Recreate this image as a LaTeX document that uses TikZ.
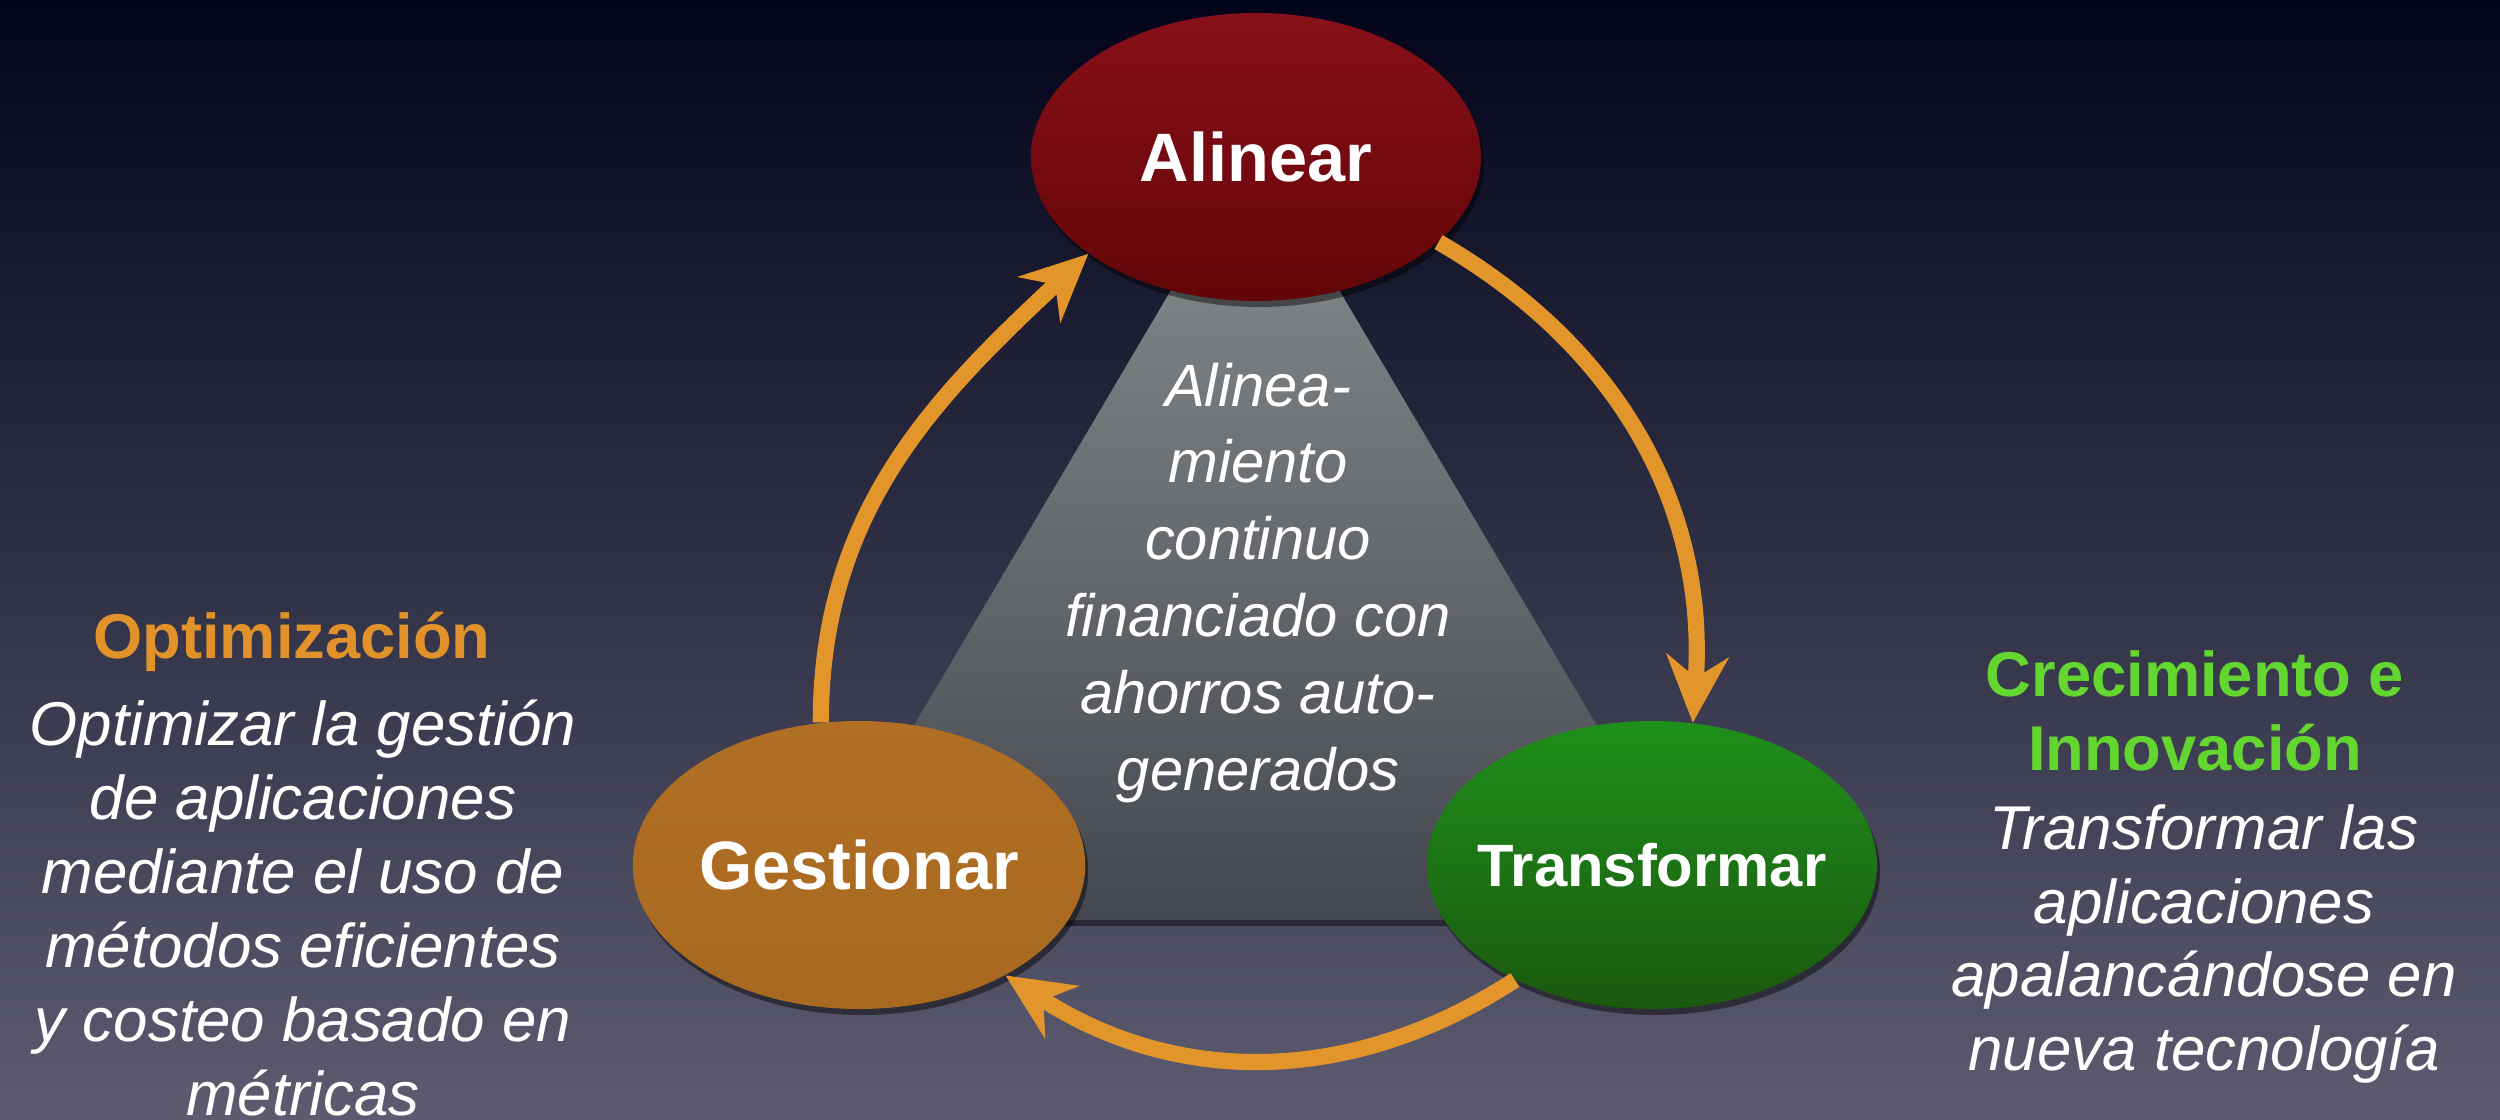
\documentclass[tikz,border=0pt]{standalone}
\usepackage{fontspec}
\setmainfont{Liberation Sans}
\usetikzlibrary{calc,shadows,arrows.meta,shapes.geometric}

\definecolor{bgtop}{HTML}{03041A}
\definecolor{bgbottom}{HTML}{5C5B70}
\definecolor{alinTop}{HTML}{881019}
\definecolor{alinBot}{HTML}{630508}
\definecolor{gestTop}{HTML}{B06F24}
\definecolor{gestBot}{HTML}{A8681F}
\definecolor{transTop}{HTML}{1F901B}
\definecolor{transBot}{HTML}{1B580F}
\definecolor{triTop}{HTML}{8A8F8F}
\definecolor{triBot}{HTML}{45474F}
\definecolor{flowc}{HTML}{E1952B}
\definecolor{optc}{HTML}{E1922A}
\definecolor{innovc}{HTML}{63D62F}

\begin{document}
\begin{tikzpicture}[softshadow/.style={drop shadow={shadow xshift=0.03cm,shadow yshift=-0.06cm,opacity=0.45,fill=black}},phase/.style={ellipse,minimum width=4.5cm,minimum height=2.88cm,inner sep=0pt,text=white,font=\bfseries\fontsize{19.5}{22}\selectfont,softshadow},flow/.style={draw=flowc,line width=4.6pt,-{Stealth[length=0.67cm,width=0.62cm,inset=0.22cm]}},heading/.style={font=\bfseries\fontsize{18}{21}\selectfont,align=center,inner sep=0pt},blurb/.style={text=white,font=\itshape\fontsize{17.6}{21}\selectfont,align=center,inner sep=0pt}]
  \useasboundingbox (0,0) rectangle (25,11.19);
  \shade[top color=bgtop,bottom color=bgbottom] (0,0) rectangle (25,11.19);
  % gray triangle behind the three phases
  \coordinate (apex) at (12.55,9.71);
  \coordinate (baseL) at (7.99,1.99);
  \coordinate (baseR) at (17.12,1.99);
  \path[top color=triTop,bottom color=triBot,softshadow] (apex) -- (baseR) -- (baseL) -- cycle;
  \node[phase,top color=alinTop,bottom color=alinBot] (alin) at (12.56,9.62) {Alinear};
  \node[phase,top color=gestTop,bottom color=gestBot] (gest) at (8.59,2.54) {Gestionar};
  \node[phase,top color=transTop,bottom color=transBot,inner xsep=-0.5cm,font=\bfseries\fontsize{17}{20}\selectfont] (trans) at (16.52,2.54) {Transformar};
  \node[blurb,font=\itshape\fontsize{17}{21.9}\selectfont] (core) at (12.58,5.36) {Alinea-\\miento\\continuo\\financiado con\\ahorros auto-\\generados};
  \draw[flow] (gest.105) to[out=90,in=223] (alin.210);
  \draw[flow] (alin.335) to[out=-30,in=86] (trans.74);
  \draw[flow] (trans.220) to[out=213,in=-33] (gest.323);
  % side texts
  \node[heading,text=optc] (opt) at (2.92,4.77) {Optimización};
  \node[blurb] (optText) at (3.03,2.11) {Optimizar la gestión\\de aplicaciones\\mediante el uso de\\métodos eficientes\\y costeo basado en\\métricas};
  \node[heading,text=innovc] (innov) at (21.95,4.08) {Crecimiento e\\Innovación};
  \node[blurb] (innovText) at (22.04,1.75) {Transformar las\\aplicaciones\\apalancándose en\\nueva tecnología};
\end{tikzpicture}
\end{document}
